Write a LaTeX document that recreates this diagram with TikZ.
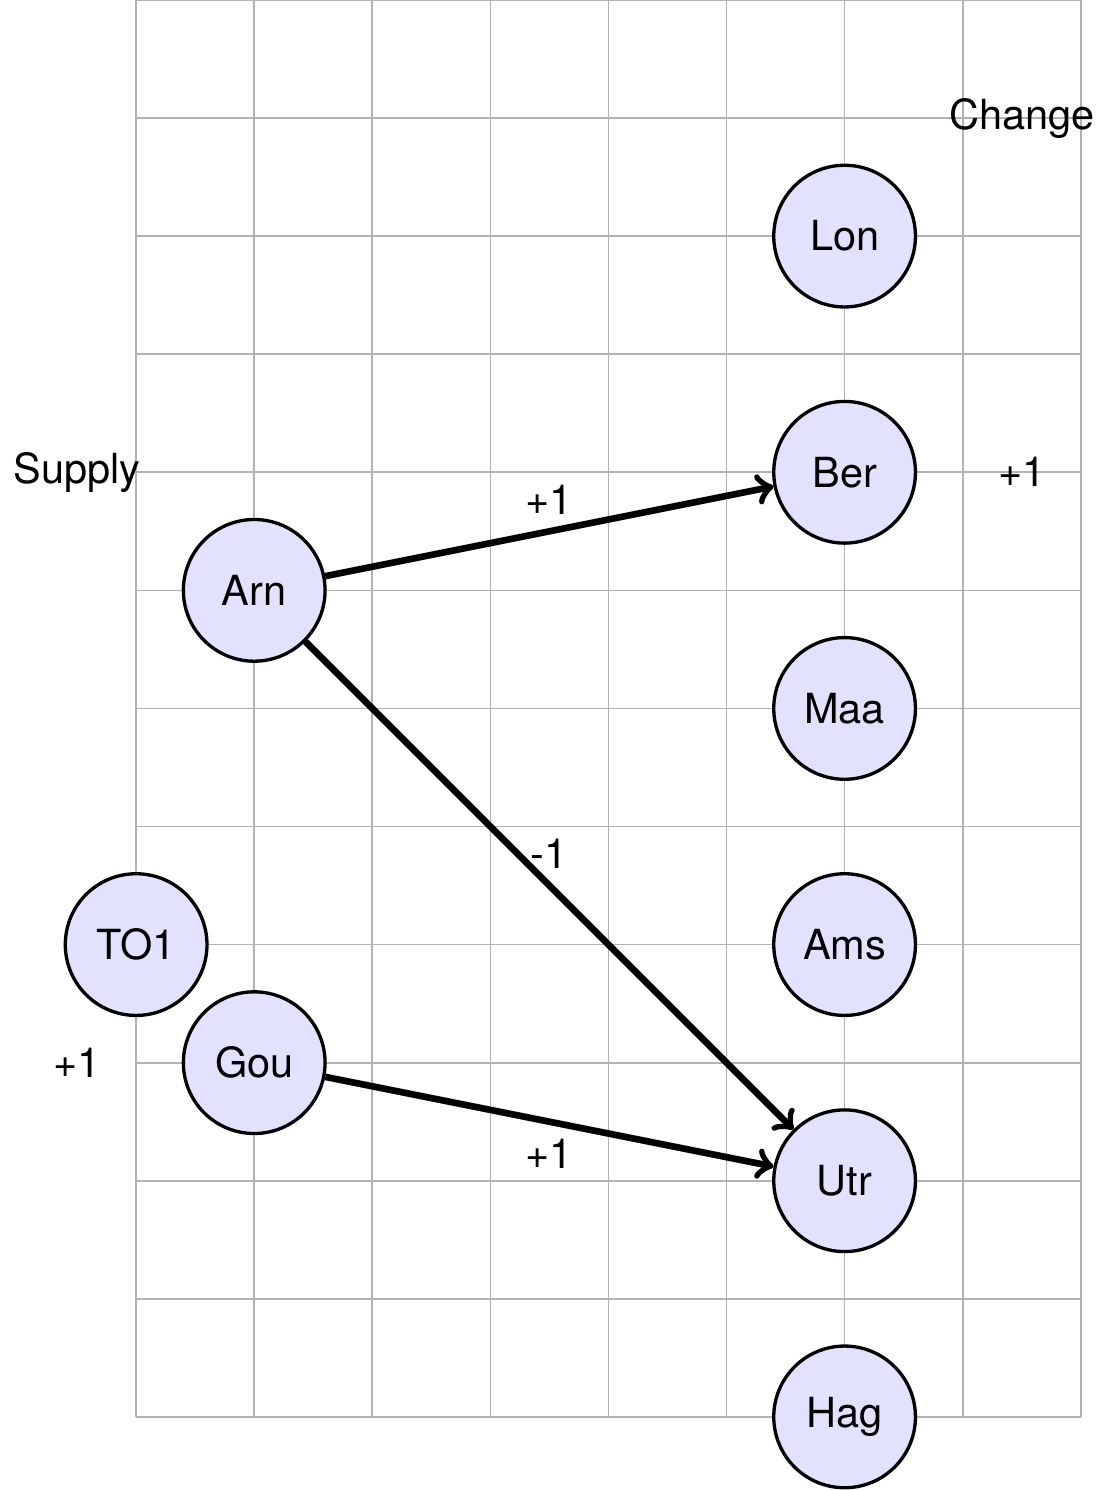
\documentclass[tikz,border=0pt]{standalone}
\usepackage{fontspec}
\setmainfont{TeX Gyre Heros}
\usepackage{tikz}
\usetikzlibrary{arrows, positioning}
\definecolor{cityfill}{RGB}{226, 226, 255}

\begin{document}
\begin{tikzpicture}[
    city/.style={circle, draw=black, fill=cityfill, minimum size=1.2cm, inner sep=0pt, thick},
    flow/.style={->, ultra thick},
    tag/.style={font=\normalsize}
]
\useasboundingbox (-1.153,-0.619) rectangle (8.246,12);

% Grid
\draw[gray!60, thin] (0,0) grid (8,12);

% Headers
\node[tag] (supply) at (-0.5,8) {Supply};
\node[tag] (change) at (7.5,11) {Change};

% Demand cities
\node[city] (lon) at (6,10) {Lon};
\node[city] (ber) at (6,8) {Ber};
\node[city] (maa) at (6,6) {Maa};
\node[city] (ams) at (6,4) {Ams};
\node[city] (utr) at (6,2) {Utr};
\node[city] (hag) at (6,0) {Hag};

% Supply cities
\node[city] (arn) at (1,7) {Arn};
\node[city] (gou) at (1,3) {Gou};
\node[city] (tol) at (0,4) {TO1};

% Changes
\node[tag] (berchange) at (7.5,8) {+1};
\node[tag] (gouchange) at (-0.5,3) {+1};

% Flows
\draw[flow] (arn) -- node[above] {+1} (ber);
\draw[flow] (arn) -- node[above] {-1} (utr);
\draw[flow] (gou) -- node[below] {+1} (utr);

\end{tikzpicture}
\end{document}
